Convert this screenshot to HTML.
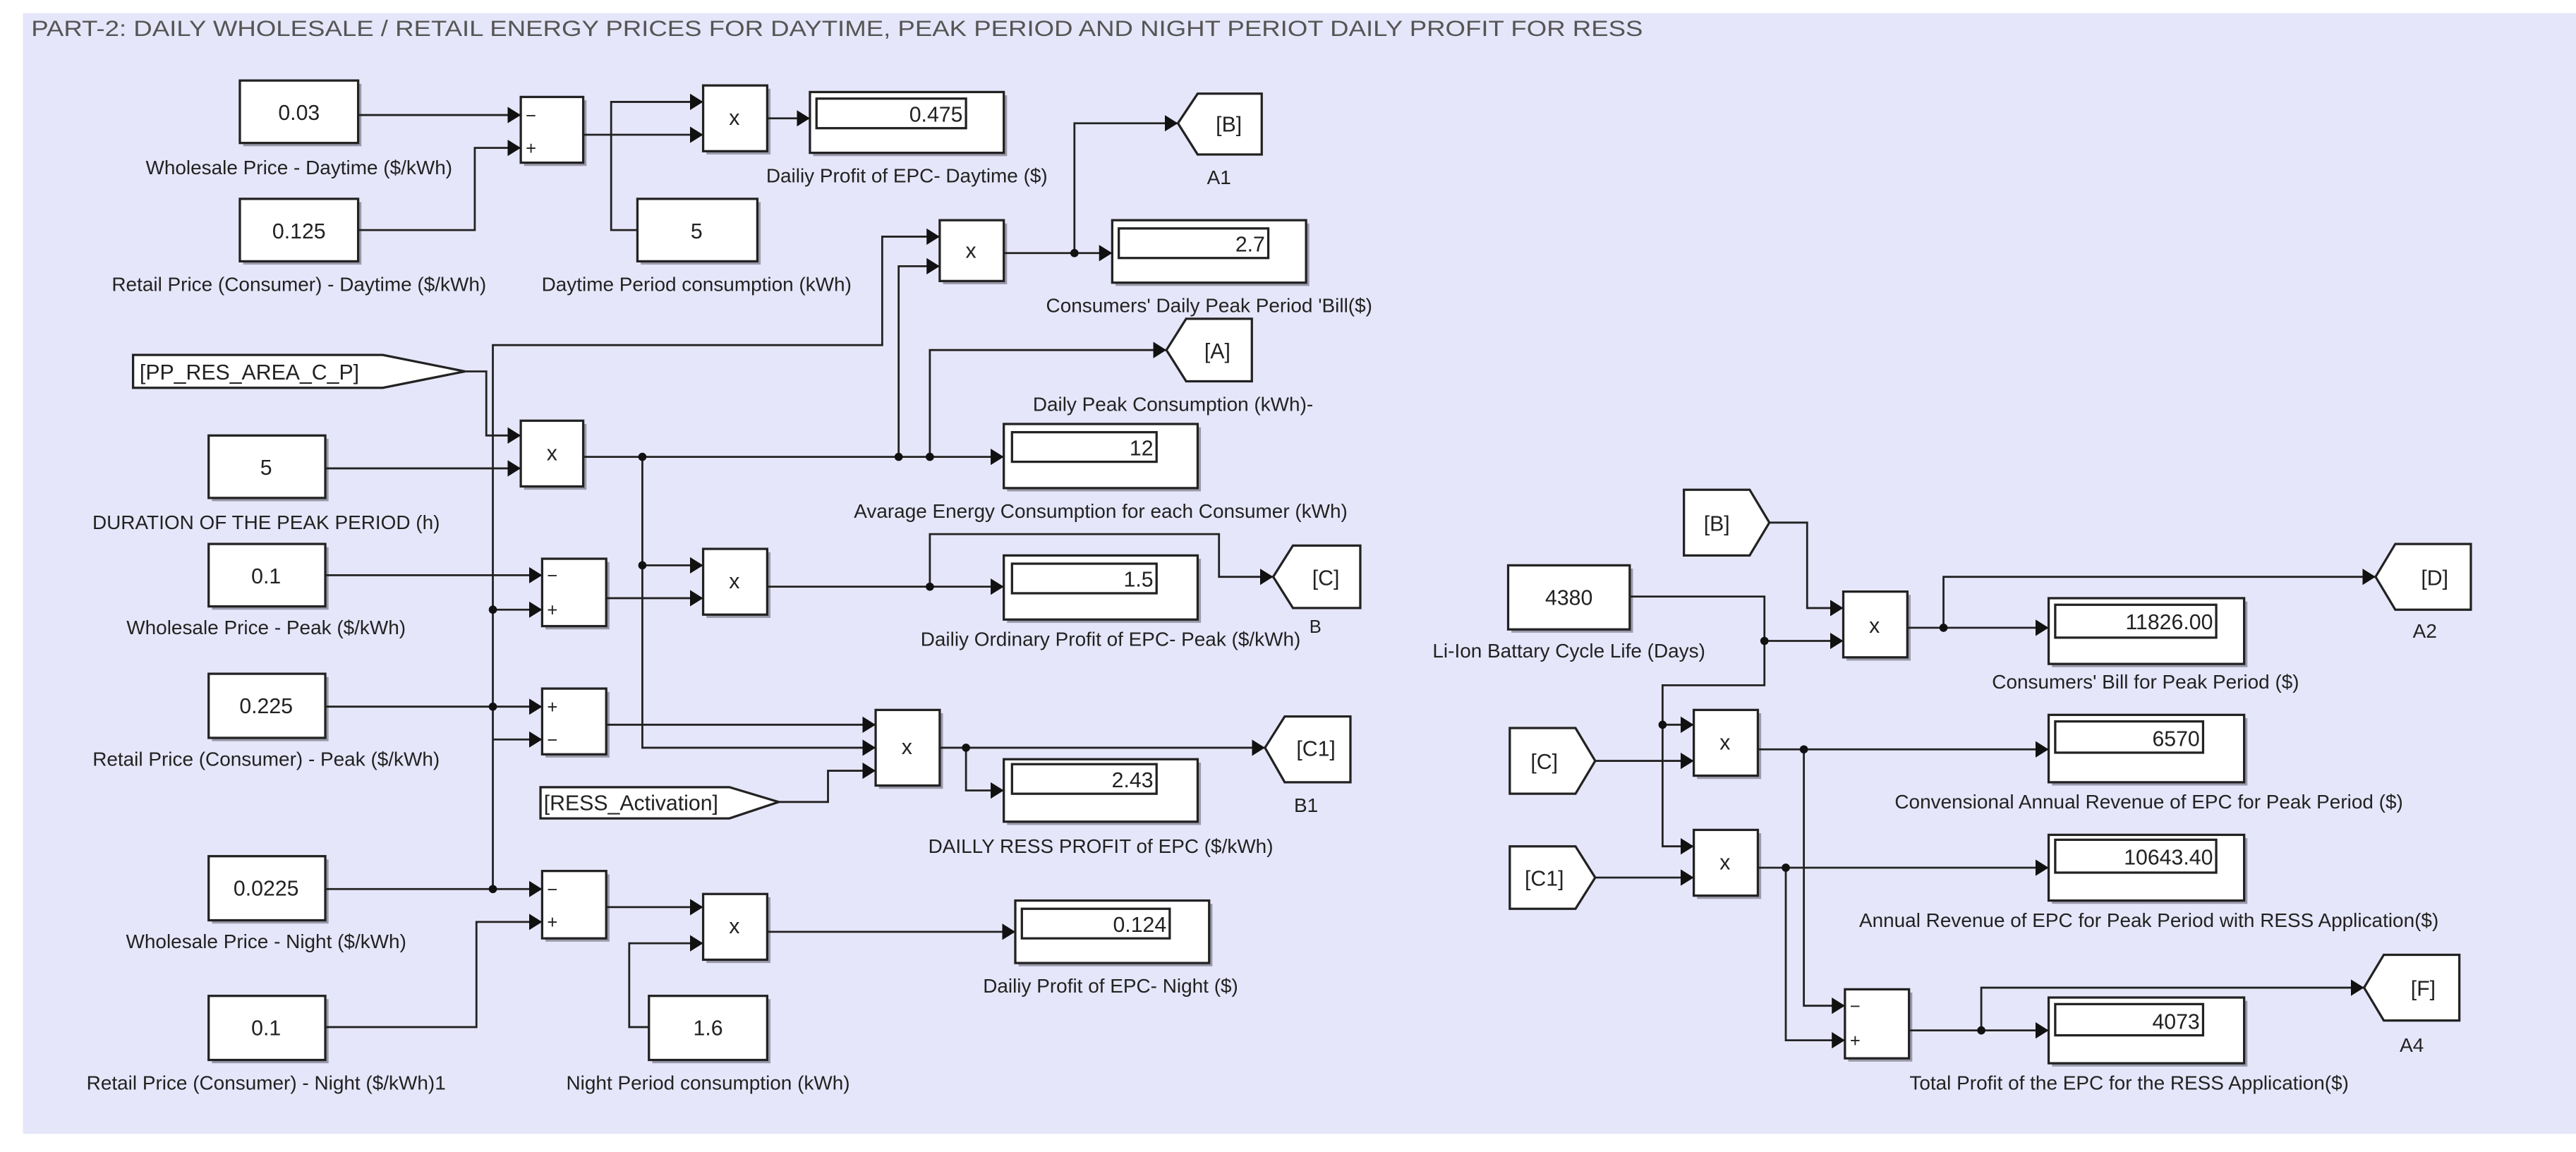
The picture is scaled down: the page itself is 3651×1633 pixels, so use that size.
<!DOCTYPE html>
<html><head><meta charset="utf-8"><style>
html,body{margin:0;padding:0;background:#fff;}
svg{display:block;}
text{font-family:"Liberation Sans",Arial,sans-serif;fill:#222;}
.b{fill:#fff;stroke:#222;stroke-width:1.4;}
.s{fill:#9a9aab;}
.w{fill:none;stroke:#222;stroke-width:1.2;}
.l{font-size:12px;text-anchor:middle;}
.v{font-size:13px;text-anchor:middle;}
.d{font-size:13px;text-anchor:end;}
</style></head><body>
<svg width="3651" height="1633" viewBox="0 0 1568 701" preserveAspectRatio="none" xmlns="http://www.w3.org/2000/svg">
<defs>
<marker id="a" markerUnits="userSpaceOnUse" markerWidth="9" markerHeight="10" refX="8" refY="5" orient="auto"><path d="M0,0 L8,5 L0,10 z" fill="#111"/></marker>
</defs>
<rect x="0" y="0" width="1568" height="701" fill="#fff"/>
<rect x="14" y="8" width="1554" height="682" fill="#e6e6fa"/>
<text x="19" y="22" font-size="13.5" fill="#555" style="fill:#555" textLength="981" lengthAdjust="spacingAndGlyphs">PART-2: DAILY WHOLESALE / RETAIL ENERGY PRICES FOR DAYTIME, PEAK PERIOD AND NIGHT PERIOT DAILY PROFIT FOR RESS</text>

<!-- shadows -->
<g class="s">
<rect x="148" y="51" width="72" height="38"/><rect x="148" y="123" width="72" height="38"/>
<rect x="319" y="61" width="38" height="40"/><rect x="430" y="54" width="39" height="40"/>
<rect x="495" y="58" width="118" height="37"/><rect x="390" y="123" width="73" height="38"/>
<rect x="574" y="136" width="39" height="37"/><rect x="679" y="136" width="118" height="38"/>
<rect x="319" y="258" width="38" height="40"/><rect x="129" y="267" width="71" height="38"/>
<rect x="613" y="260" width="118" height="39"/>
<rect x="129" y="333" width="71" height="38"/><rect x="332" y="342" width="39" height="41"/>
<rect x="430" y="336" width="39" height="40"/><rect x="613" y="340" width="118" height="39"/>
<rect x="129" y="412" width="71" height="39"/><rect x="332" y="421" width="39" height="40"/>
<rect x="535" y="434" width="39" height="46"/><rect x="613" y="464" width="118" height="38"/>
<rect x="129" y="523" width="71" height="39"/><rect x="332" y="532" width="39" height="41"/>
<rect x="430" y="546" width="39" height="40"/><rect x="620" y="550" width="118" height="38"/>
<rect x="129" y="608" width="71" height="39"/><rect x="397" y="608" width="72" height="39"/>
<rect x="920" y="346" width="74" height="39"/><rect x="1124" y="362" width="39" height="40"/>
<rect x="1249" y="366" width="119" height="40"/><rect x="1033" y="434" width="39" height="40"/>
<rect x="1249" y="437" width="119" height="41"/><rect x="1033" y="507" width="39" height="40"/>
<rect x="1249" y="510" width="119" height="40"/><rect x="1125" y="604" width="39" height="42"/>
<rect x="1249" y="609" width="119" height="40"/>
</g>

<!-- wires -->
<g class="w" marker-end="url(#a)">
<polyline points="218,70 317,70"/>
<polyline points="218,140 289,140 289,90 317,90"/>
<polyline points="355,82 428,82"/>
<polyline points="388,140 372,140 372,62 428,62"/>
<polyline points="467,72 493,72"/>
<polyline points="611,154 677,154"/>
<polyline points="654,154 654,75 717,75"/>
<polyline points="283,226 296,226 296,265 317,265"/>
<polyline points="198,285 317,285"/>
<polyline points="355,278 611,278"/>
<polyline points="547,278 547,162 572,162"/>
<polyline points="300,541 300,210 537,210 537,144 572,144"/>
<polyline points="566,278 566,213 710,213"/>
<polyline points="391,278 391,455 533,455"/>
<polyline points="391,344 428,344"/>
<polyline points="198,350 330,350"/>
<polyline points="300,371 330,371"/>
<polyline points="369,364 428,364"/>
<polyline points="467,357 611,357"/>
<polyline points="566,357 566,325 742,325 742,351 775,351"/>
<polyline points="198,430 330,430"/>
<polyline points="300,450 330,450"/>
<polyline points="369,441 533,441"/>
<polyline points="572,455 770,455"/>
<polyline points="588,455 588,481 611,481"/>
<polyline points="474,488 504,488 504,469 533,469"/>
<polyline points="198,541 330,541"/>
<polyline points="198,625 290,625 290,561 330,561"/>
<polyline points="369,552 428,552"/>
<polyline points="395,625 383,625 383,574 428,574"/>
<polyline points="467,567 618,567"/>
<polyline points="1077,318 1100,318 1100,370 1122,370"/>
<polyline points="992,363 1074,363 1074,390 1122,390"/>
<polyline points="1074,390 1074,417 1012,417 1012,515 1031,515"/>
<polyline points="1012,441 1031,441"/>
<polyline points="971,463 1031,463"/>
<polyline points="971,534 1031,534"/>
<polyline points="1161,382 1247,382"/>
<polyline points="1183,382 1183,351 1446,351"/>
<polyline points="1070,456 1247,456"/>
<polyline points="1098,456 1098,612 1123,612"/>
<polyline points="1070,528 1247,528"/>
<polyline points="1087,528 1087,633 1123,633"/>
<polyline points="1162,627 1247,627"/>
<polyline points="1206,627 1206,601 1439,601"/>
</g>
<g fill="#111">
<circle cx="654" cy="154" r="2.5"/><circle cx="391" cy="278" r="2.5"/><circle cx="547" cy="278" r="2.5"/><circle cx="566" cy="278" r="2.5"/>
<circle cx="391" cy="344" r="2.5"/><circle cx="566" cy="357" r="2.5"/><circle cx="300" cy="371" r="2.5"/><circle cx="300" cy="430" r="2.5"/>
<circle cx="588" cy="455" r="2.5"/><circle cx="300" cy="541" r="2.5"/>
<circle cx="1074" cy="390" r="2.5"/><circle cx="1012" cy="441" r="2.5"/><circle cx="1183" cy="382" r="2.5"/>
<circle cx="1098" cy="456" r="2.5"/><circle cx="1087" cy="528" r="2.5"/><circle cx="1206" cy="627" r="2.5"/>
</g>

<!-- constants -->
<rect class="b" x="146" y="49" width="72" height="38"/><text class="v" x="182" y="73">0.03</text>
<text class="l" x="182" y="106">Wholesale Price - Daytime ($/kWh)</text>
<rect class="b" x="146" y="121" width="72" height="38"/><text class="v" x="182" y="145">0.125</text>
<text class="l" x="182" y="177">Retail Price (Consumer) - Daytime ($/kWh)</text>
<rect class="b" x="388" y="121" width="73" height="38"/><text class="v" x="424" y="145">5</text>
<text class="l" x="424" y="177">Daytime Period consumption (kWh)</text>
<rect class="b" x="127" y="265" width="71" height="38"/><text class="v" x="162" y="289">5</text>
<text class="l" x="162" y="322">DURATION OF THE PEAK PERIOD (h)</text>
<rect class="b" x="127" y="331" width="71" height="38"/><text class="v" x="162" y="355">0.1</text>
<text class="l" x="162" y="386">Wholesale Price - Peak ($/kWh)</text>
<rect class="b" x="127" y="410" width="71" height="39"/><text class="v" x="162" y="434">0.225</text>
<text class="l" x="162" y="466">Retail Price (Consumer) - Peak ($/kWh)</text>
<rect class="b" x="127" y="521" width="71" height="39"/><text class="v" x="162" y="545">0.0225</text>
<text class="l" x="162" y="577">Wholesale Price - Night ($/kWh)</text>
<rect class="b" x="127" y="606" width="71" height="39"/><text class="v" x="162" y="630">0.1</text>
<text class="l" x="162" y="663">Retail Price (Consumer) - Night ($/kWh)1</text>
<rect class="b" x="395" y="606" width="72" height="39"/><text class="v" x="431" y="630">1.6</text>
<text class="l" x="431" y="663">Night Period consumption (kWh)</text>
<rect class="b" x="918" y="344" width="74" height="39"/><text class="v" x="955" y="368">4380</text>
<text class="l" x="955" y="400">Li-Ion Battary Cycle Life (Days)</text>

<!-- sums -->
<g font-size="11">
<rect class="b" x="317" y="59" width="38" height="40"/><text x="320" y="74">−</text><text x="320" y="94">+</text>
<rect class="b" x="330" y="340" width="39" height="41"/><text x="333" y="354">−</text><text x="333" y="375">+</text>
<rect class="b" x="330" y="419" width="39" height="40"/><text x="333" y="434">+</text><text x="333" y="454">−</text>
<rect class="b" x="330" y="530" width="39" height="41"/><text x="333" y="545">−</text><text x="333" y="565">+</text>
<rect class="b" x="1123" y="602" width="39" height="42"/><text x="1126" y="616">−</text><text x="1126" y="637">+</text>
</g>

<!-- products -->
<g>
<rect class="b" x="428" y="52" width="39" height="40"/><text class="v" x="447" y="76">x</text>
<rect class="b" x="572" y="134" width="39" height="37"/><text class="v" x="591" y="157">x</text>
<rect class="b" x="317" y="256" width="38" height="40"/><text class="v" x="336" y="280">x</text>
<rect class="b" x="428" y="334" width="39" height="40"/><text class="v" x="447" y="358">x</text>
<rect class="b" x="533" y="432" width="39" height="46"/><text class="v" x="552" y="459">x</text>
<rect class="b" x="428" y="544" width="39" height="40"/><text class="v" x="447" y="568">x</text>
<rect class="b" x="1122" y="360" width="39" height="40"/><text class="v" x="1141" y="385">x</text>
<rect class="b" x="1031" y="432" width="39" height="40"/><text class="v" x="1050" y="456">x</text>
<rect class="b" x="1031" y="505" width="39" height="40"/><text class="v" x="1050" y="529">x</text>
</g>

<!-- displays -->
<rect class="b" x="493" y="56" width="118" height="37"/><rect class="b" x="497" y="60" width="91" height="18"/><text class="d" x="586" y="74">0.475</text>
<text class="l" x="552" y="111">Dailiy Profit of EPC- Daytime ($)</text>
<rect class="b" x="677" y="134" width="118" height="38"/><rect class="b" x="681" y="139" width="91" height="18"/><text class="d" x="770" y="153">2.7</text>
<text class="l" x="736" y="190">Consumers' Daily Peak Period 'Bill($)</text>
<rect class="b" x="611" y="258" width="118" height="39"/><rect class="b" x="616" y="263" width="88" height="18"/><text class="d" x="702" y="277">12</text>
<text class="l" x="670" y="315">Avarage Energy Consumption for each Consumer (kWh)</text>
<rect class="b" x="611" y="338" width="118" height="39"/><rect class="b" x="616" y="343" width="88" height="18"/><text class="d" x="702" y="357">1.5</text>
<text class="l" x="676" y="393">Dailiy Ordinary Profit of EPC- Peak ($/kWh)</text><text x="797" y="385" font-size="11">B</text>
<rect class="b" x="611" y="462" width="118" height="38"/><rect class="b" x="616" y="465" width="88" height="18"/><text class="d" x="702" y="479">2.43</text>
<text class="l" x="670" y="519">DAILLY RESS PROFIT of EPC  ($/kWh)</text>
<rect class="b" x="618" y="548" width="118" height="38"/><rect class="b" x="622" y="553" width="90" height="18"/><text class="d" x="710" y="567">0.124</text>
<text class="l" x="676" y="604">Dailiy Profit of EPC- Night ($)</text>
<rect class="b" x="1247" y="364" width="119" height="40"/><rect class="b" x="1251" y="368" width="98" height="20"/><text class="d" x="1347" y="383">11826.00</text>
<text class="l" x="1306" y="419">Consumers' Bill for Peak Period ($)</text>
<rect class="b" x="1247" y="435" width="119" height="41"/><rect class="b" x="1251" y="439" width="90" height="19"/><text class="d" x="1339" y="454">6570</text>
<text class="l" x="1308" y="492">Convensional Annual Revenue of EPC for  Peak Period ($)</text>
<rect class="b" x="1247" y="508" width="119" height="40"/><rect class="b" x="1251" y="511" width="98" height="20"/><text class="d" x="1347" y="526">10643.40</text>
<text class="l" x="1308" y="564">Annual Revenue of EPC for  Peak Period with RESS Application($)</text>
<rect class="b" x="1247" y="607" width="119" height="40"/><rect class="b" x="1251" y="611" width="90" height="19"/><text class="d" x="1339" y="626">4073</text>
<text class="l" x="1296" y="663">Total Profit of the EPC for the RESS Application($)</text>

<!-- gotos (tip left) -->
<polygon class="b" points="717,75 729,57 768,57 768,94 729,94"/><text class="v" x="748" y="80">[B]</text><text class="l" x="742" y="112">A1</text>
<polygon class="b" points="710,213 722,194 762,194 762,232 722,232"/><text class="v" x="741" y="218">[A]</text>
<text class="l" x="714" y="250">Daily Peak Consumption (kWh)-</text>
<polygon class="b" points="775,351 787,332 828,332 828,370 787,370"/><text class="v" x="807" y="356">[C]</text>
<polygon class="b" points="770,455 782,436 822,436 822,476 782,476"/><text class="v" x="801" y="460">[C1]</text><text class="l" x="795" y="494">B1</text>
<polygon class="b" points="1446,351 1458,331 1504,331 1504,371 1458,371"/><text class="v" x="1482" y="356">[D]</text><text class="l" x="1476" y="388">A2</text>
<polygon class="b" points="1439,601 1451,581 1497,581 1497,621 1451,621"/><text class="v" x="1475" y="606">[F]</text><text class="l" x="1468" y="640">A4</text>

<!-- froms (tip right) -->
<polygon class="b" points="81,216 233,216 283,226 233,236 81,236"/><text x="85" y="231" font-size="13">[PP_RES_AREA_C_P]</text>
<polygon class="b" points="329,479 444,479 474,488 444,498 329,498"/><text x="331" y="493" font-size="13">[RESS_Activation]</text>
<polygon class="b" points="1025,298 1065,298 1077,318 1065,338 1025,338"/><text class="v" x="1045" y="323">[B]</text>
<polygon class="b" points="919,443 959,443 971,463 959,483 919,483"/><text class="v" x="940" y="468">[C]</text>
<polygon class="b" points="919,515 959,515 971,534 959,553 919,553"/><text class="v" x="940" y="539">[C1]</text>
</svg>
</body></html>
